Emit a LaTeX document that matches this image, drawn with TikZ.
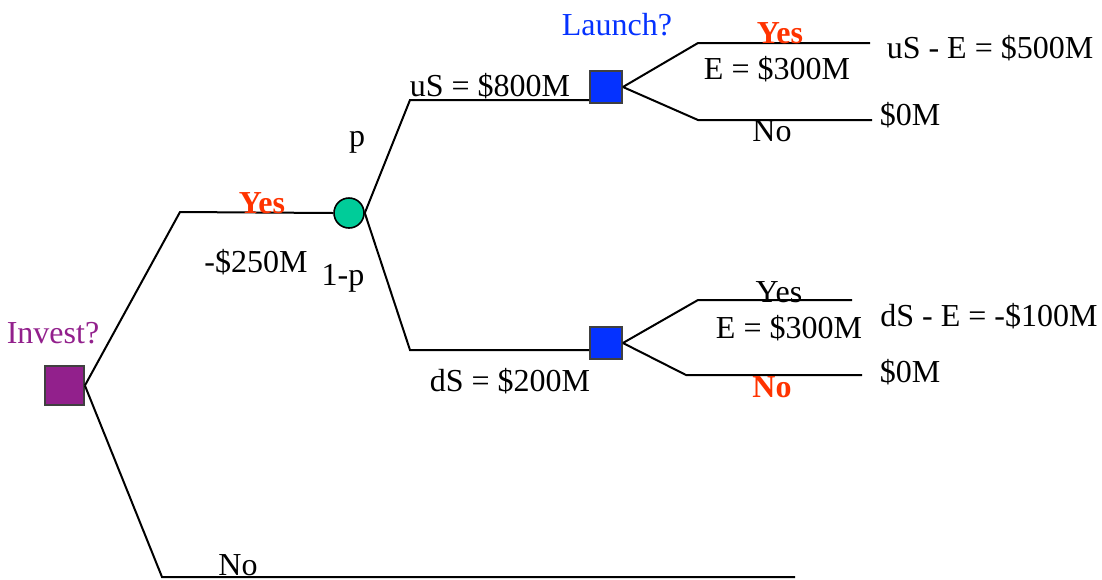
\documentclass[tikz,border=0pt]{standalone}
\usepackage{fontspec}
\setmainfont{Liberation Serif}
\usepackage{tikz}
\usepackage{xcolor}

\definecolor{investpurple}{RGB}{146,32,140}
\definecolor{launchblue}{RGB}{5,50,255}
\definecolor{chanceteal}{RGB}{0,204,153}
\definecolor{yesred}{RGB}{255,51,0}

\tikzset{
  decision/.style={rectangle,draw=black!75,line width=0.9pt,inner sep=0pt},
  chance/.style={circle,draw=black,line width=0.8pt,fill=chanceteal,minimum size=15pt,inner sep=0pt},
  lbl/.style={inner sep=0pt,font=\fontsize{16}{19}\selectfont},
  redlbl/.style={lbl,text=yesred,font=\fontsize{16}{19}\selectfont\bfseries},
  branch/.style={line width=1pt}
}

\begin{document}
\begin{tikzpicture}[x=0.5pt,y=-0.5pt]
    \useasboundingbox (0,0) rectangle (1102,579);
    % decision and chance nodes
    \node [decision,fill=investpurple,minimum size=19.5pt] (invest) at (64.5,385.5) {};
    \node [chance] (mkt) at (349,213) {};
    \node [decision,fill=launchblue,minimum size=16pt] (launchU) at (606,87) {};
    \node [decision,fill=launchblue,minimum size=16pt] (launchD) at (606,343) {};

    % bend points
    \coordinate (yesA) at (180,212);
    \coordinate (upA) at (410,100);
    \coordinate (dnA) at (410,350);
    \coordinate (noA) at (162,577);
    \coordinate (noB) at (795,577);
    \coordinate (uyA) at (698,43);
    \coordinate (uyB) at (870,43);
    \coordinate (unA) at (698,120);
    \coordinate (unB) at (872,120);
    \coordinate (dyA) at (698,300);
    \coordinate (dyB) at (852,300);
    \coordinate (dnB) at (686,375);
    \coordinate (dnC) at (862,375);

    % branches
    \draw [branch] (invest.east) -- (yesA) -- (mkt.west);
    \draw [branch] (invest.east) -- (noA) -- (noB);
    \draw [branch] (mkt.east) -- (upA) -- (upA -| launchU.west);
    \draw [branch] (mkt.east) -- (dnA) -- (dnA -| launchD.west);
    \draw [branch] (launchU.east) -- (uyA) -- (uyB);
    \draw [branch] (launchU.east) -- (unA) -- (unB);
    \draw [branch] (launchD.east) -- (dyA) -- (dyB);
    \draw [branch] (launchD.east) -- (dnB) -- (dnC);

    % labels
    \node [lbl,text=investpurple] (investQ) at (53,333) {Invest?};
    \node [lbl,text=launchblue] (launchQ) at (617,25) {Launch?};
    \node [redlbl] (yesInv) at (262,203) {Yes};
    \node [lbl] (cost) at (256,262) {-\$250M};
    \node [lbl] (noInv) at (238,565) {No};
    \node [lbl] (prob) at (357,142) {p};
    \node [lbl] (probC) at (343,278) {1-p};
    \node [lbl] (upVal) at (490,86) {uS = \$800M};
    \node [lbl] (dnVal) at (510,381) {dS = \$200M};
    \node [redlbl] (yesU) at (780,33) {Yes};
    \node [lbl] (expU) at (777,69) {E = \$300M};
    \node [lbl] (noU) at (772,131) {No};
    \node [lbl] (payUY) at (990,48) {uS - E = \$500M};
    \node [lbl] (payUN) at (910,115) {\$0M};
    \node [lbl] (yesD) at (779,292) {Yes};
    \node [lbl] (expD) at (789,328) {E = \$300M};
    \node [redlbl] (noD) at (772,387) {No};
    \node [lbl] (payDY) at (989,316) {dS - E = -\$100M};
    \node [lbl] (payDN) at (910,372) {\$0M};

\end{tikzpicture}
\end{document}
